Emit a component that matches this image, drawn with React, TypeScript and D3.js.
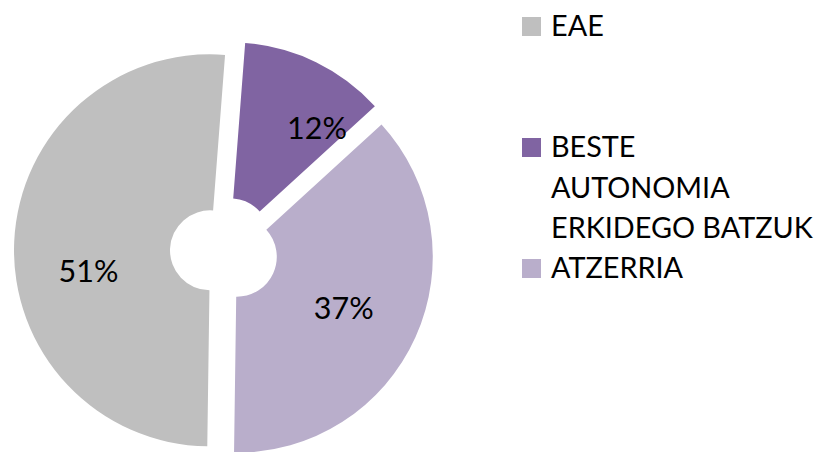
import React from "react";
import * as d3 from "d3";

const categories = ["EAE", "BESTE AUTONOMIA ERKIDEGO BATZUK", "ATZERRIA"];
const values = [51, 12, 37];
const valueLabels = ["51%", "12%", "37%"];
const legendLines = [["EAE"], ["BESTE", "AUTONOMIA", "ERKIDEGO BATZUK"], ["ATZERRIA"]];
const colors = ["#BFBFBF", "#8064A2", "#B9AECB"];

// layout / style
const W = 823;
const H = 452;
const CX = 224;
const CY = 251;
const OUTER = 196;
const INNER = 40;
const EXPLODE = 14;
const FIRST_ANGLE_DEG = 180.8;
const labelAngleDeg = [261, 38, 115];
const labelRadius = [123, 141, 118];
const FONT = "Lato, 'Open Sans', sans-serif";

export default function App() {
  const start = (FIRST_ANGLE_DEG * Math.PI) / 180;
  const pie = d3
    .pie<number>()
    .sort(null)
    .startAngle(start)
    .endAngle(start + 2 * Math.PI);
  const arcs = pie(values);
  const arcGen = d3.arc<d3.PieArcDatum<number>>().innerRadius(INNER).outerRadius(OUTER);

  const legendY = d3.scalePoint<string>().domain(categories).range([36, 278]);
  const lineH = 40.5;

  return (
    <svg
      width={W}
      height={H}
      viewBox={`0 0 ${W} ${H}`}
      style={{ position: "absolute", left: 0, top: 0, background: "#fff" }}
    >
      <g transform={`translate(${CX},${CY})`}>
        {arcs.map((a, i) => {
          const mid = (a.startAngle + a.endAngle) / 2;
          const ox = EXPLODE * Math.sin(mid);
          const oy = -EXPLODE * Math.cos(mid);
          const la = (labelAngleDeg[i] * Math.PI) / 180;
          const lx = labelRadius[i] * Math.sin(la);
          const ly = -labelRadius[i] * Math.cos(la);
          return (
            <g key={categories[i]} transform={`translate(${ox},${oy})`}>
              <path d={arcGen(a) || ""} fill={colors[i]} />
              <text
                x={lx}
                y={ly}
                textAnchor="middle"
                dominantBaseline="central"
                fontFamily={FONT}
                fontSize={30.5}
                fill="#000"
              >
                {valueLabels[i]}
              </text>
            </g>
          );
        })}
      </g>
      <g>
        {categories.map((c, i) => {
          const by = legendY(c) as number;
          return (
            <g key={c}>
              <rect x={522} y={by - 19} width={19} height={19} fill={colors[i]} />
              {legendLines[i].map((ln, k) => (
                <text
                  key={k}
                  x={551}
                  y={by + k * lineH}
                  fontFamily={FONT}
                  fontSize={28.8}
                  fill="#000"
                >
                  {ln}
                </text>
              ))}
            </g>
          );
        })}
      </g>
    </svg>
  );
}
